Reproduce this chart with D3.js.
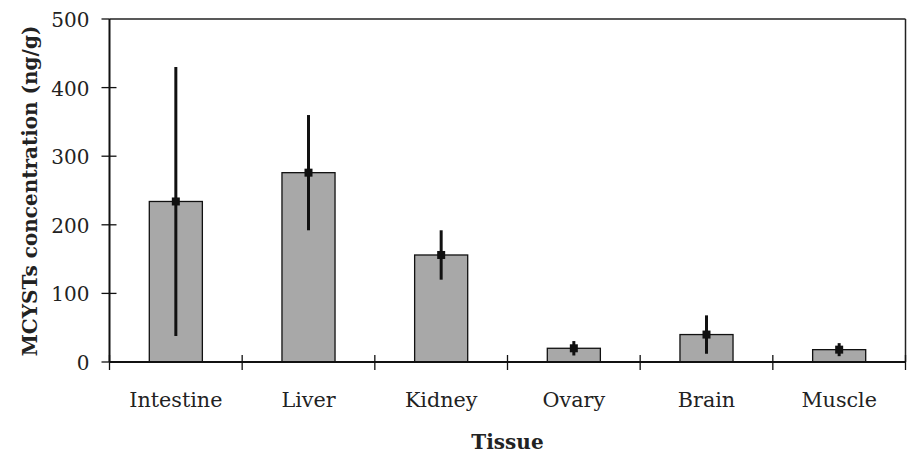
<!DOCTYPE html>
<html><head><meta charset="utf-8">
<script src="https://cdn.jsdelivr.net/npm/d3@7"></script>
<style>body{margin:0;background:#fff}svg{display:block}</style>
</head><body>
<svg id="c" width="907" height="455"></svg>
<script>
const categories = ["Intestine","Liver","Kidney","Ovary","Brain","Muscle"];
const means = [234, 276, 156, 20, 40, 18];
const errors = [196, 84, 36, 10.5, 28, 9.5];
const yTicks = [0,100,200,300,400,500];
const yLabel = "MCYSTs concentration (ng/g)";
const xLabel = "Tissue";

const svg = d3.select("#c");
const L = 109.5, R = 905.5, T = 19, B = 362;
const x = d3.scaleBand().domain(categories).range([L, R]).paddingInner(0).paddingOuter(0);
const y = d3.scaleLinear().domain([0,500]).range([B, T]);
const font = "'DejaVu Serif', serif";

// frame top/right
svg.append("line").attr("x1",L).attr("x2",R).attr("y1",T).attr("y2",T).attr("stroke","#222").attr("stroke-width",1.5);
svg.append("line").attr("x1",R).attr("x2",R).attr("y1",T).attr("y2",B).attr("stroke","#222").attr("stroke-width",1.5);

// bars
const bw = x.bandwidth()*0.4;
svg.selectAll("rect.bar").data(categories).join("rect")
  .attr("x", d => x(d) + x.bandwidth()/2 - bw/2)
  .attr("y", (d,i) => y(means[i]))
  .attr("width", bw)
  .attr("height", (d,i) => B - y(means[i]))
  .attr("fill","#a8a8a8").attr("stroke","#111").attr("stroke-width",1.3);

// error bars
svg.selectAll("line.err").data(categories).join("line")
  .attr("x1", d => x(d)+x.bandwidth()/2).attr("x2", d => x(d)+x.bandwidth()/2)
  .attr("y1", (d,i) => y(means[i]+errors[i])).attr("y2", (d,i) => y(Math.max(0,means[i]-errors[i])))
  .attr("stroke","#111").attr("stroke-width",3);
svg.selectAll("rect.mk").data(categories).join("rect")
  .attr("x", d => x(d)+x.bandwidth()/2-4).attr("y",(d,i)=>y(means[i])-4)
  .attr("width",8).attr("height",8).attr("fill","#111");

// y axis
svg.append("line").attr("x1",L).attr("x2",L).attr("y1",T).attr("y2",B).attr("stroke","#111").attr("stroke-width",2);
svg.selectAll("line.yt").data(yTicks).join("line")
  .attr("x1",L-8).attr("x2",d => d===500 ? L : L+7).attr("y1",d=>y(d)).attr("y2",d=>y(d))
  .attr("stroke","#111").attr("stroke-width",1.3);
svg.selectAll("text.yl").data(yTicks).join("text")
  .attr("x",89.5).attr("y",d=>y(d)).attr("dy","0.4em").attr("text-anchor","end")
  .attr("font-family",font).attr("font-size",20).attr("fill","#222").text(d=>d);

// x axis
svg.append("line").attr("x1",L).attr("x2",R).attr("y1",B).attr("y2",B).attr("stroke","#111").attr("stroke-width",2);
const bounds = categories.map(d => x(d)).concat([R]);
svg.selectAll("line.xt").data(bounds).join("line")
  .attr("x1",d=>d).attr("x2",d=>d).attr("y1",B-7).attr("y2",B+8)
  .attr("stroke","#111").attr("stroke-width",1.3);
svg.selectAll("text.xl").data(categories).join("text")
  .attr("x",d=>x(d)+x.bandwidth()/2).attr("y",406.5).attr("text-anchor","middle")
  .attr("font-family",font).attr("font-size",20.7).attr("fill","#222").text(d=>d);

// titles
svg.append("text").attr("x",(L+R)/2).attr("y",449).attr("text-anchor","middle")
  .attr("font-family",font).attr("font-weight","bold").attr("font-size",20).attr("fill","#222").text(xLabel);
svg.append("text").attr("transform",`translate(37,191) rotate(-90)`).attr("text-anchor","middle")
  .attr("font-family",font).attr("font-weight","bold").attr("font-size",20).attr("fill","#222").text(yLabel);
</script>
</body></html>
